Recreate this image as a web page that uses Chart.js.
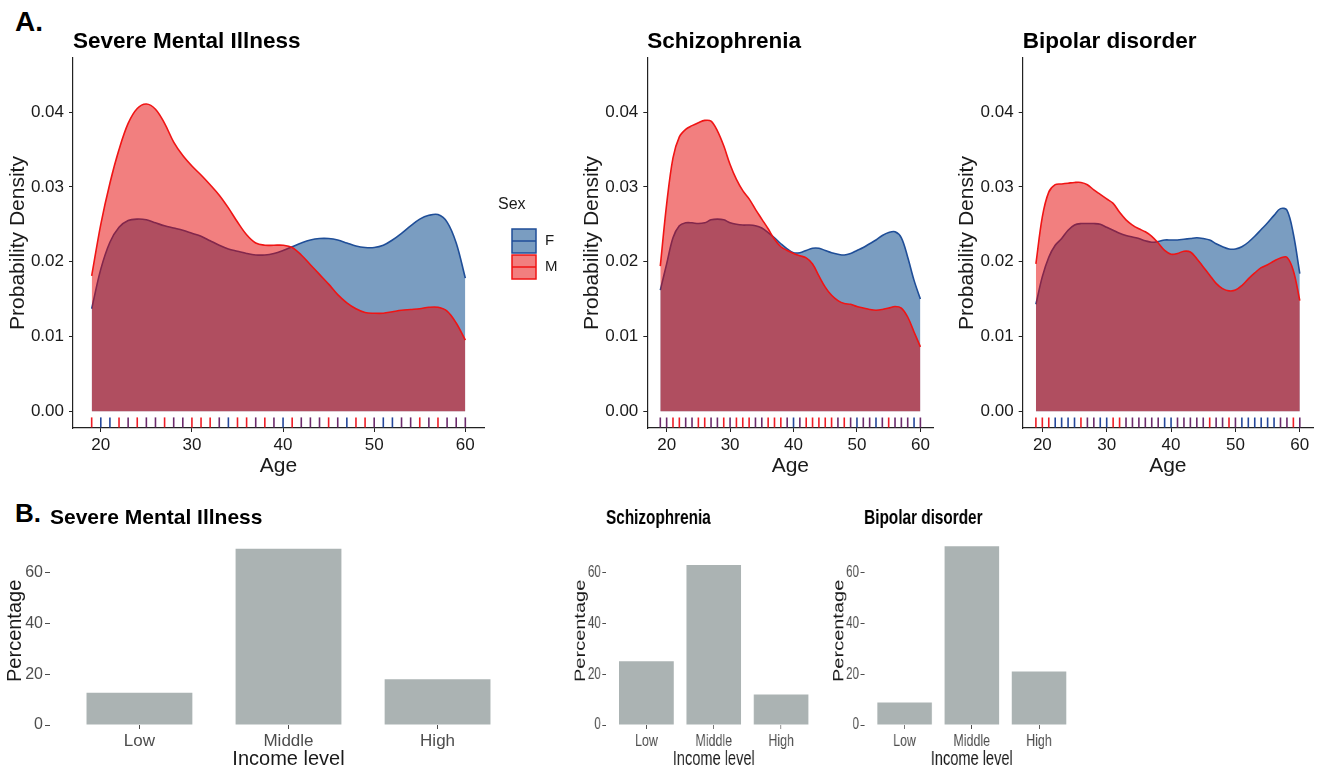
<!DOCTYPE html>
<html>
<head>
<meta charset="utf-8">
<script src="https://cdn.jsdelivr.net/npm/chart.js@4"></script>
<style>
  body { margin: 0; background: #fff; width: 1320px; height: 771px; position: relative; overflow: hidden; font-family: 'Liberation Sans', Arial, sans-serif; }
  canvas { position: absolute; }
  canvas.squeeze { transform: scaleX(0.73); transform-origin: 0 0; }
  .tag { position: absolute; font-weight: bold; color: #000; line-height: 1; }
</style>
</head>
<body>
<div class="tag" style="left:15px;top:8px;font-size:28px">A.</div>
<div class="tag" style="left:15px;top:500px;font-size:26px">B.</div>

<canvas id="a1" width="580" height="480" style="left:0;top:0"></canvas>
<canvas id="a2" width="380" height="480" style="left:560px;top:0"></canvas>
<canvas id="a3" width="380" height="480" style="left:940px;top:0"></canvas>
<canvas id="b1" width="560" height="281" style="left:0;top:490px"></canvas>
<canvas id="b2" class="squeeze" width="363" height="281" style="left:560px;top:490px"></canvas>
<canvas id="b3" class="squeeze" width="685" height="281" style="left:820px;top:490px"></canvas>

<script>
// age grid for the density curves
const ages = [19,20,21,22,23,24,25,26,27,28,29,30,31,32,33,34,35,36,37,38,39,
              40,41,42,43,44,45,46,47,48,49,50,51,52,53,54,55,56,57,58,59,60];

const smiF = [0.0137,0.0190,0.0226,0.0246,0.0255,0.0257,0.0256,0.0252,0.0248,0.0245,0.0242,
              0.0238,0.0234,0.0228,0.0222,0.0217,0.0214,0.0211,0.0209,0.0209,0.0211,
              0.0215,0.0220,0.0225,0.0229,0.0231,0.0231,0.0229,0.0225,0.0221,0.0219,
              0.0219,0.0222,0.0229,0.0238,0.0248,0.0257,0.0262,0.0263,0.0253,0.0225,0.0178];
const smiM = [0.0181,0.0250,0.0305,0.0350,0.0385,0.0405,0.0411,0.0404,0.0385,0.0360,0.0342,
              0.0328,0.0316,0.0303,0.0289,0.0272,0.0253,0.0236,0.0225,0.0222,0.0222,
              0.0222,0.0219,0.0209,0.0196,0.0183,0.0170,0.0156,0.0145,0.0137,0.0132,
              0.0131,0.0131,0.0133,0.0135,0.0136,0.0137,0.0139,0.0139,0.0134,0.0118,0.0095];
const sczF = [0.0162,0.0197,0.0232,0.0248,0.0252,0.0252,0.0251,0.0252,0.0256,0.0257,0.0256,
              0.0252,0.0250,0.0249,0.0249,0.0248,0.0245,0.0239,0.0232,0.0224,0.0217,
              0.0212,0.0212,0.0215,0.0218,0.0218,0.0215,0.0212,0.0210,0.0209,0.0211,
              0.0215,0.0219,0.0224,0.0229,0.0235,0.0239,0.0240,0.0232,0.0206,0.0175,0.0150];
const sczM = [0.0194,0.0277,0.0339,0.0367,0.0377,0.0382,0.0386,0.0389,0.0388,0.0375,0.0355,
              0.0330,0.0310,0.0295,0.0284,0.0270,0.0257,0.0244,0.0230,0.0220,0.0215,
              0.0211,0.0208,0.0205,0.0197,0.0181,0.0166,0.0155,0.0148,0.0144,0.0143,
              0.0140,0.0138,0.0136,0.0135,0.0136,0.0138,0.0140,0.0138,0.0126,0.0106,0.0086];
const bpF  = [0.0143,0.0180,0.0206,0.0222,0.0231,0.0242,0.0249,0.0251,0.0251,0.0251,0.0250,
              0.0246,0.0242,0.0238,0.0235,0.0233,0.0231,0.0228,0.0226,0.0227,0.0229,
              0.0229,0.0229,0.0230,0.0231,0.0232,0.0231,0.0229,0.0224,0.0220,0.0217,
              0.0217,0.0220,0.0226,0.0234,0.0243,0.0252,0.0262,0.0271,0.0269,0.0237,0.0184];
const bpM  = [0.0197,0.0260,0.0293,0.0303,0.0304,0.0305,0.0306,0.0306,0.0303,0.0296,0.0290,
              0.0284,0.0278,0.0266,0.0256,0.0249,0.0244,0.0240,0.0234,0.0225,0.0215,
              0.0210,0.0211,0.0214,0.0213,0.0204,0.0193,0.0182,0.0171,0.0164,0.0161,
              0.0162,0.0168,0.0177,0.0185,0.0192,0.0196,0.0201,0.0205,0.0206,0.0188,0.0148];

// rug colour per age: r = male only, b = female only, p = both
const smiRug = 'rbbrprpprpprrrpbrrprpb' + 'rppprpbrrpbbpprprppp';
const sczRug = 'pprrpprrpprprrrpprrrpb' + 'prrrrrprpbppbprpppbp';
const bpRug  = 'rrrbbbbrppbbrrppppppbb' + 'ppppprpprpbbbbbbpprp';

const ageTicks = [20, 30, 40, 50, 60];
const densityTicks = [0, 0.01, 0.02, 0.03, 0.04];

const incomeLevels = ['Low', 'Middle', 'High'];
const smiIncome = [12.7, 69.3, 18.0];
const sczIncome = [25.1, 62.9, 12.0];
const bpIncome  = [8.8, 70.2, 21.0];
const pctTicks = [0, 20, 40, 60];

Chart.defaults.font.family = "'Liberation Sans', Arial, sans-serif";
Chart.defaults.animation = false;
Chart.defaults.plugins.legend.display = false;
Chart.defaults.plugins.tooltip.enabled = false;

const ink = '#1a1a1a';
const rugColors = { r: '#ee1c25', b: '#24469a', p: '#6b2a6b' };

// ggplot-style key drawn in the right margin of the first panel
const sexKey = {
  id: 'sexKey',
  afterDraw(chart) {
    const ctx = chart.ctx;
    const x = chart.chartArea.right + 28;
    const y0 = 229;
    ctx.save();
    ctx.textBaseline = 'middle';
    ctx.font = "16px 'Liberation Sans', Arial, sans-serif";
    ctx.fillStyle = ink;
    ctx.fillText('Sex', x - 14, 205);
    chart.data.datasets.filter(d => d.fill).forEach((d, i) => {
      const top = y0 + i * 26;
      ctx.fillStyle = d.backgroundColor;
      ctx.fillRect(x, top, 24, 24);
      ctx.strokeStyle = d.borderColor;
      ctx.lineWidth = 1.5;
      ctx.strokeRect(x, top, 24, 24);
      ctx.beginPath();
      ctx.moveTo(x, top + 12);
      ctx.lineTo(x + 24, top + 12);
      ctx.stroke();
      ctx.fillStyle = ink;
      ctx.font = "15px 'Liberation Sans', Arial, sans-serif";
      ctx.fillText(d.label, x + 33, top + 12);
    });
    ctx.restore();
  }
};

function densityChart(id, title, f, m, rug, axisW, padRight, yTitlePad, plugins) {
  const pts = v => ages.map((a, i) => ({ x: a, y: v[i] }));
  return new Chart(document.getElementById(id), {
    type: 'line',
    data: {
      datasets: [
        { label: 'F', data: pts(f), borderColor: '#1f4e98', backgroundColor: 'rgba(0,67,137,0.52)',
          fill: 'origin', borderWidth: 1.6, pointRadius: 0, tension: 0.35, order: 2 },
        { label: 'M', data: pts(m), borderColor: '#f01414', backgroundColor: 'rgba(230,0,0,0.5)',
          fill: 'origin', borderWidth: 1.6, pointRadius: 0, tension: 0.35, order: 1 },
        { label: 'rug', data: ages.map(a => ({ x: a, y: -0.0015 })), showLine: false, fill: false,
          pointStyle: 'line', pointRotation: 90, pointRadius: 5, pointHoverRadius: 5, pointBorderWidth: 1.6,
          pointBorderColor: rug.split('').map(c => rugColors[c]), order: 0 }
      ]
    },
    options: {
      responsive: false,
      layout: { padding: { left: 0, right: padRight, top: 0, bottom: 0 } },
      plugins: {
        title: { display: true, text: title, align: 'start', fullSize: false, color: '#000',
                 font: { size: 22.5, weight: 'bold' }, padding: { top: 28, bottom: 3 } }
      },
      scales: {
        x: {
          type: 'linear', min: 16.95, max: 62.05,
          afterBuildTicks: s => { s.ticks = ageTicks.map(v => ({ value: v })); },
          ticks: { color: ink, font: { size: 17 }, padding: 3 },
          grid: { drawOnChartArea: false, tickLength: 4, color: '#222' },
          border: { color: '#222', width: 1.2 },
          title: { display: true, text: 'Age', color: ink, font: { size: 21 }, padding: { top: 0, bottom: 1 } },
          afterFit: s => { s.height = 52; }
        },
        y: {
          min: -0.00225, max: 0.04725,
          afterBuildTicks: s => { s.ticks = densityTicks.map(v => ({ value: v })); },
          ticks: { color: ink, font: { size: 17 }, padding: 5, callback: v => v.toFixed(2) },
          grid: { drawOnChartArea: false, tickLength: 4, color: '#222' },
          border: { color: '#222', width: 1.2 },
          title: { display: true, text: 'Probability Density', color: ink, font: { size: 21 }, padding: { top: yTitlePad } },
          afterFit: s => { s.width = axisW; }
        }
      }
    },
    plugins: plugins || []
  });
}

function incomeChart(id, title, values, axisW, padRight, yTitlePad, barPct) {
  return new Chart(document.getElementById(id), {
    type: 'bar',
    data: {
      datasets: [{ label: 'Percentage', data: values.map((v, i) => ({ x: i + 1, y: v })),
                   backgroundColor: '#abb3b3', categoryPercentage: 1, barPercentage: barPct }]
    },
    options: {
      responsive: false,
      layout: { padding: { left: 0, right: padRight, top: 0, bottom: 0 } },
      plugins: {
        title: { display: true, text: title, align: 'start', fullSize: false, color: '#000',
                 font: { size: 21, weight: 'bold' }, padding: { top: 15.5, bottom: 6 } }
      },
      scales: {
        x: {
          type: 'linear', min: 0.4, max: 3.6, offset: false,
          afterBuildTicks: s => { s.ticks = incomeLevels.map((_, i) => ({ value: i + 1 })); },
          ticks: { color: '#4d4d4d', font: { size: 17 }, padding: 2,
                   callback: v => incomeLevels[v - 1] },
          grid: { drawOnChartArea: false, tickLength: 4, color: '#4d4d4d', offset: false },
          border: { display: false },
          title: { display: true, text: 'Income level', color: ink, font: { size: 20 }, padding: { top: 0, bottom: 0 } },
          afterFit: s => { s.height = 46; }
        },
        y: {
          min: 0, max: 74,
          afterBuildTicks: s => { s.ticks = pctTicks.map(v => ({ value: v })); },
          ticks: { color: '#4d4d4d', font: { size: 16 }, padding: 2 },
          grid: { drawOnChartArea: false, tickLength: 5, color: '#4d4d4d' },
          border: { display: false },
          title: { display: true, text: 'Percentage', color: ink, font: { size: 20 }, padding: { top: yTitlePad } },
          afterFit: s => { s.width = axisW; }
        }
      }
    }
  });
}

densityChart('a1', 'Severe Mental Illness', smiF, smiM, smiRug, 73, 96, 6, [sexKey]);
densityChart('a2', 'Schizophrenia', sczF, sczM, sczRug, 87.3, 1, 20);
densityChart('a3', 'Bipolar disorder', bpF, bpM, bpRug, 82.7, 7, 14.7);

// the two right-hand income panels are drawn wide and squeezed to 0.73 by CSS
incomeChart('b1', 'Severe Mental Illness', smiIncome, 50, 33, 3, 0.71);
incomeChart('b2', 'Schizophrenia', sczIncome, 63, 4.7, 16.4, 0.81);
incomeChart('b3', 'Bipolar disorder', bpIncome, 60.5, 329.7, 14.4, 0.81);
</script>
</body>
</html>
